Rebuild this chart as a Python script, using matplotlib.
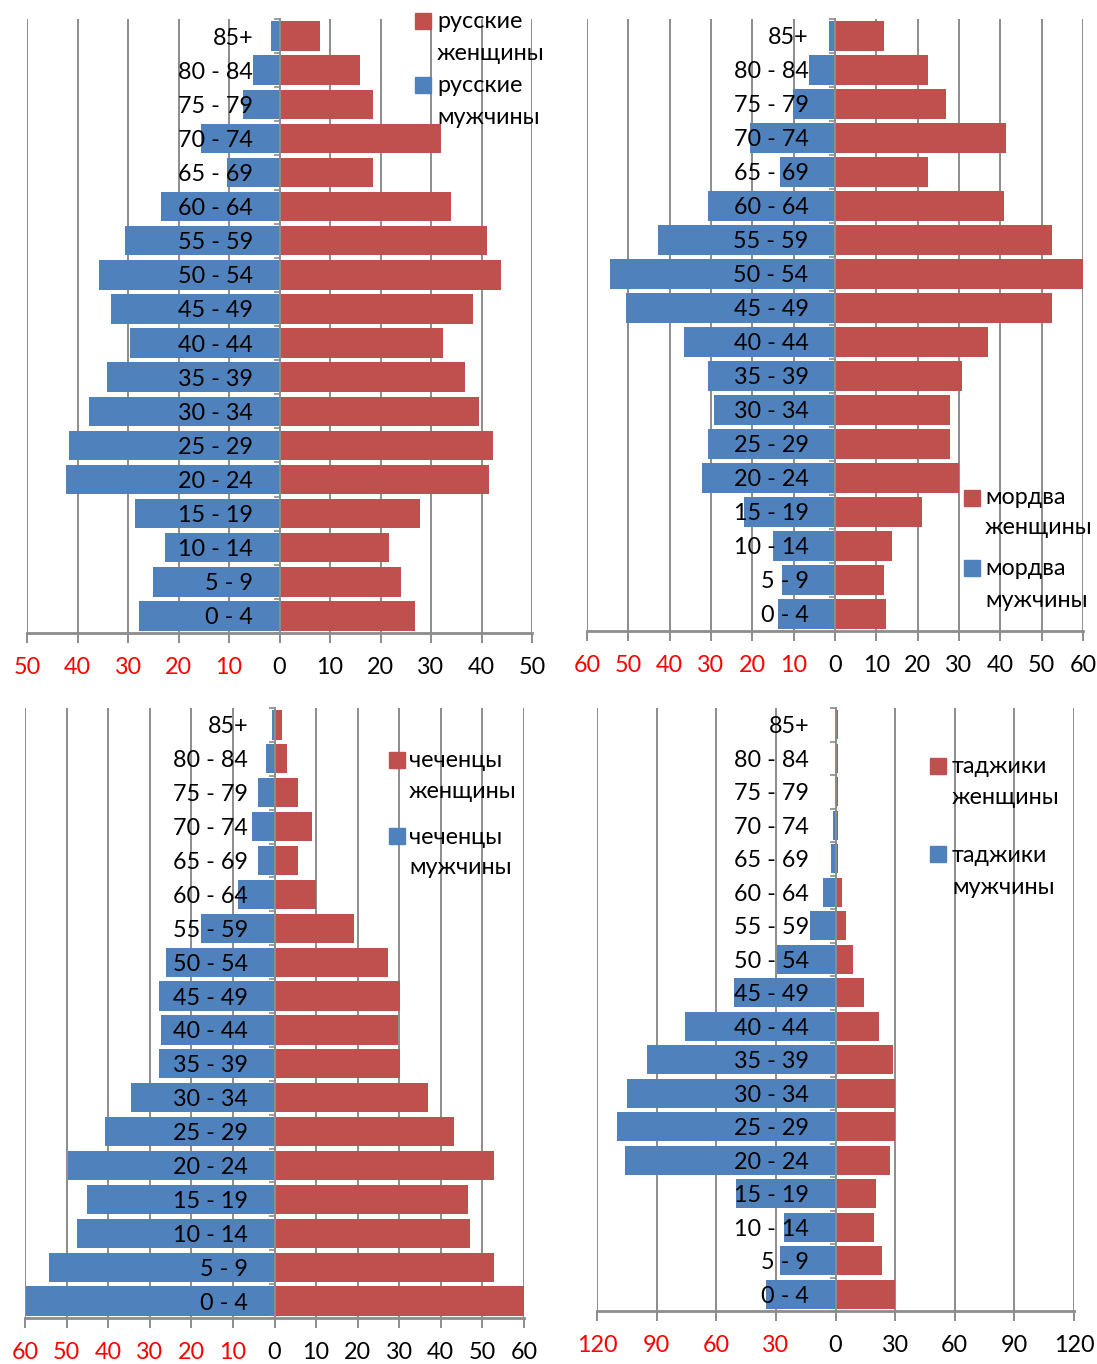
import matplotlib
matplotlib.use("Agg")
import matplotlib.pyplot as plt
from matplotlib.patches import Rectangle
import numpy as np

plt.rcParams['font.family'] = ['Lato', 'DejaVu Sans']

ages = ['0 - 4', '5 - 9', '10 - 14', '15 - 19', '20 - 24', '25 - 29', '30 - 34',
        '35 - 39', '40 - 44', '45 - 49', '50 - 54', '55 - 59', '60 - 64',
        '65 - 69', '70 - 74', '75 - 79', '80 - 84', '85+']

rus_m = [27.9, 25.1, 22.7, 28.6, 42.2, 41.7, 37.8, 34.2, 29.7, 33.4, 35.8, 30.6, 23.5, 10.3, 15.6, 7.2, 5.3, 1.6]
rus_f = [26.8, 24.0, 21.6, 27.9, 41.5, 42.2, 39.5, 36.7, 32.4, 38.3, 43.8, 41.0, 34.0, 18.5, 31.9, 18.5, 16.0, 8.1]

mor_m = [13.8, 12.8, 15.1, 22.0, 32.2, 30.7, 29.2, 30.7, 36.5, 50.5, 54.5, 42.8, 30.7, 13.2, 20.5, 10.2, 6.4, 1.5]
mor_f = [12.4, 11.9, 13.8, 21.1, 29.9, 27.8, 27.8, 30.7, 37.0, 52.5, 60.1, 52.5, 40.9, 22.5, 41.4, 26.8, 22.5, 11.9]

che_m = [59.8, 54.3, 47.5, 45.1, 49.7, 40.8, 34.4, 27.7, 27.2, 27.7, 26.2, 17.6, 8.8, 4.0, 5.5, 4.0, 2.1, 0.5]
che_f = [60.1, 52.9, 47.1, 46.6, 52.9, 43.2, 37.0, 30.1, 29.8, 30.2, 27.2, 19.0, 10.1, 5.6, 9.0, 5.6, 3.1, 1.7]

taj_m = [34.8, 27.8, 25.9, 50.2, 105.8, 109.8, 104.7, 94.8, 75.5, 51.2, 29.4, 12.6, 6.5, 2.4, 1.4, 0.3, 0.3, 0.3]
taj_f = [30.1, 23.6, 19.6, 20.6, 27.6, 30.1, 30.1, 28.7, 21.7, 14.5, 8.6, 5.4, 3.5, 1.4, 1.4, 1.4, 1.4, 1.4]

leg_f = ['русские\nженщины', 'мордва\nженщины', 'чеченцы\nженщины', 'таджики\nженщины']
leg_m = ['русские\nмужчины', 'мордва\nмужчины', 'чеченцы\nмужчины', 'таджики\nмужчины']

BLUE = '#4F81BD'
RED = '#C0504D'
GRID = '#8C8C8C'
FS = 16.8

W, H = 1097, 1364
fig = plt.figure(figsize=(W / 100, H / 100), dpi=100)
fig.patch.set_facecolor('white')


def make_axes(x0, x1, ytop, ybot):
    return fig.add_axes([x0 / W, 1 - ybot / H, (x1 - x0) / W, (ybot - ytop) / H])


panels = [
    (make_axes(27, 532, 19, 633), rus_m, rus_f, 50, 10),
    (make_axes(587, 1083, 19, 631), mor_m, mor_f, 60, 10),
    (make_axes(25, 524, 708, 1318), che_m, che_f, 60, 10),
    (make_axes(597, 1074, 708, 1311), taj_m, taj_f, 120, 30),
]

y = np.arange(len(ages))
for ax, m, f, lim, step in panels:
    ax.barh(y, -np.array(m), height=0.86, color=BLUE, zorder=1)
    ax.barh(y, f, height=0.86, color=RED, zorder=1)
    ax.set_xlim(-lim, lim)
    ax.set_ylim(-0.5, len(ages) - 0.5)
    ticks = np.arange(-lim, lim + step, step)
    for t in ticks:
        if t != 0:
            ax.axvline(t, color=GRID, lw=1.4, zorder=0.5)
    ax.set_xticks(ticks)
    ax.set_xticklabels([str(abs(int(t))) for t in ticks])
    for lab, t in zip(ax.get_xticklabels(), ticks):
        lab.set_color('#FF0000' if t < 0 else 'black')
    ax.tick_params(axis='x', length=7, width=1.4, color=GRID, pad=10, labelsize=FS)
    for s in ['top', 'right', 'left']:
        ax.spines[s].set_visible(False)
    ax.spines['bottom'].set_color(GRID)
    ax.spines['bottom'].set_linewidth(2.0)
    ax.spines['left'].set_visible(True)
    ax.spines['left'].set_position(('data', 0))
    ax.spines['left'].set_color(GRID)
    ax.spines['left'].set_linewidth(1.4)
    ax.set_yticks(y)
    ax.set_yticklabels(ages)
    ax.set_yticks(np.arange(-0.5, len(ages), 1.0), minor=True)
    ax.tick_params(axis='y', which='major', length=0, pad=19, labelsize=FS, labelcolor='black')
    ax.tick_params(axis='y', which='minor', length=4, width=1.2, color=GRID, direction='out')
    ax.set_facecolor('none')

# legends (square + two-line text), positions in pixels
legend_spec = [
    (415, 13, 437, 22, 53, 77, 86, 117, 0),
    (964, 490, 985, 498, 528, 560, 568, 600, 1),
    (389, 752, 409, 761, 792, 828, 837, 868, 2),
    (930, 758, 952, 767, 798, 846, 855, 887, 3),
]
for sx, sy1, tx, t1a, t1b, sy2, t2a, t2b, i in legend_spec:
    for sy, col in ((sy1, RED), (sy2, BLUE)):
        fig.patches.append(Rectangle((sx / W, 1 - (sy + 16) / H), 16 / W, 16 / H,
                                     transform=fig.transFigure, color=col))
    fw, fl = leg_f[i].split('\n')
    mw, ml = leg_m[i].split('\n')
    for txt, yy in ((fw, t1a), (fl, t1b), (mw, t2a), (ml, t2b)):
        fig.text(tx / W, 1 - yy / H, txt, fontsize=FS, ha='left', va='center', color='black')

fig.savefig('out.png', dpi=100, facecolor='white')
